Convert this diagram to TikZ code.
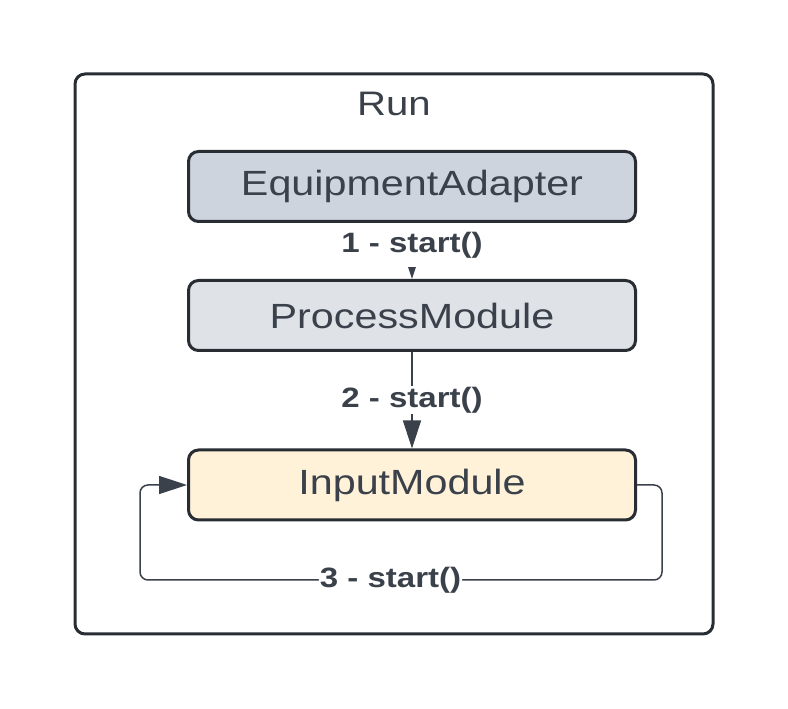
\documentclass[tikz,border=0pt]{standalone}
\usepackage{fontspec}
\setmainfont{Liberation Sans}[FakeStretch=1.18]
\usetikzlibrary{arrows.meta,positioning}

\definecolor{edgecol}{HTML}{282C33}
\definecolor{textcol}{HTML}{3A414A}
\definecolor{eafill}{HTML}{CED4DE}
\definecolor{pmfill}{HTML}{DFE3E8}
\definecolor{imfill}{HTML}{FFF2D9}

\tikzset{
  module/.style={draw=edgecol, line width=3pt, rounded corners=10pt,
    minimum width=447pt, minimum height=70pt, text=textcol,
    font=\fontsize{35}{40}\selectfont},
  link/.style={draw=textcol, line width=1.5pt,
    -{Triangle[length=28pt,width=18pt]}},
  steplabel/.style={fill=white, inner sep=1pt, text=textcol,
    font=\bfseries\fontsize{28}{32}\selectfont}
}

\begin{document}
\begin{tikzpicture}[x=1pt,y=1pt]
\useasboundingbox (0,0) rectangle (788,709);

% outer frame
\draw[edgecol, line width=3pt, rounded corners=10pt] (75,75) rectangle (713,635);
\node[text=textcol, font=\fontsize{34}{40}\selectfont] (run) at (394,605) {Run};

\node[module, fill=eafill] (ea) at (412,522.5) {EquipmentAdapter};
\node[module, fill=pmfill] (pm) [below of=ea, node distance=129pt] {ProcessModule};
\node[module, fill=imfill] (im) [below of=pm, node distance=169.5pt] {InputModule};

\coordinate (loopr) at (662,129);
\coordinate (loopl) at (140,129);

\draw[link] (ea) -- node[steplabel, inner ysep=9pt, pos=0.4] {1 - start()} (pm);
\draw[link] (pm) -- node[steplabel, pos=0.5] {2 - start()} (im);
\draw[link, rounded corners=8pt] (im.east) -| (loopr)
  -- node[steplabel, pos=0.52] {3 - start()} (loopl) |- (im.west);
\end{tikzpicture}
\end{document}
